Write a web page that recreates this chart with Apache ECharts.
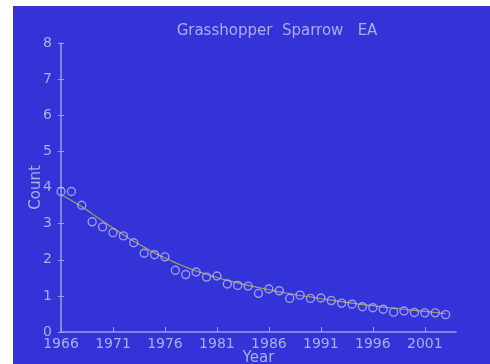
<!DOCTYPE html>
<html>
<head>
<meta charset="utf-8">
<script src="https://cdn.jsdelivr.net/npm/echarts@6/dist/echarts.min.js"></script>
<style>
  html, body { margin: 0; padding: 0; background: #ffffff; }
  #chart { position: absolute; left: 13px; top: 6px; width: 477px; height: 358px; }
</style>
</head>
<body>
<div id="chart"></div>
<script>
// Grasshopper Sparrow, Eastern region: annual index and fitted trend
const years = [1966, 1967, 1968, 1969, 1970, 1971, 1972, 1973, 1974, 1975,
               1976, 1977, 1978, 1979, 1980, 1981, 1982, 1983, 1984, 1985,
               1986, 1987, 1988, 1989, 1990, 1991, 1992, 1993, 1994, 1995,
               1996, 1997, 1998, 1999, 2000, 2001, 2002, 2003];
const counts = [3.89, 3.89, 3.51, 3.05, 2.91, 2.75, 2.66, 2.47, 2.18, 2.14,
                2.08, 1.71, 1.59, 1.66, 1.52, 1.55, 1.33, 1.29, 1.27, 1.07,
                1.19, 1.14, 0.93, 1.02, 0.93, 0.94, 0.87, 0.80, 0.77, 0.70,
                0.67, 0.63, 0.55, 0.58, 0.54, 0.53, 0.53, 0.48];
const trend = [3.80, 3.64, 3.47, 3.27, 3.07, 2.88, 2.69, 2.51, 2.35, 2.19,
               2.05, 1.92, 1.80, 1.69, 1.60, 1.51, 1.43, 1.36, 1.29, 1.23,
               1.17, 1.11, 1.06, 1.01, 0.97, 0.92, 0.88, 0.84, 0.80, 0.76,
               0.73, 0.69, 0.66, 0.63, 0.60, 0.57, 0.54, 0.51];
const yearTicks = [1966, 1971, 1976, 1981, 1986, 1991, 1996, 2001];

const fg = '#adadee';
const axisCol = '#9d9dea';
const font = 'DejaVu Sans';

const chart = echarts.init(document.getElementById('chart'));
chart.setOption({
  backgroundColor: '#3333d8',
  animation: false,
  title: {
    text: 'Grasshopper  Sparrow   EA',
    left: 259,
    top: 13,
    textAlign: 'center',
    textStyle: { color: fg, fontFamily: font, fontWeight: 'normal', fontSize: 15 }
  },
  grid: { left: 48, top: 37, right: 34, bottom: 32, outerBoundsMode: 'none', containLabel: false },
  xAxis: {
    type: 'value',
    min: 1966,
    max: 2004,
    name: 'Year',
    nameLocation: 'middle',
    nameGap: 19,
    nameMoveOverlap: false,
    nameTextStyle: { color: fg, fontFamily: font, fontSize: 15 },
    splitLine: { show: false },
    axisLine: { lineStyle: { color: axisCol, width: 1.5 } },
    axisTick: { inside: true, length: 5, customValues: yearTicks, lineStyle: { color: axisCol } },
    axisLabel: {
      customValues: yearTicks,
      formatter: v => String(v),
      color: fg, fontFamily: font, fontSize: 14, margin: 5
    }
  },
  yAxis: [{
    type: 'value',
    min: 0,
    max: 8,
    interval: 1,
    name: 'Count',
    nameLocation: 'middle',
    nameGap: 17,
    nameMoveOverlap: false,
    nameTextStyle: { color: fg, fontFamily: font, fontSize: 15 },
    splitLine: { show: false },
    axisLine: { lineStyle: { color: axisCol, width: 1.5 } },
    axisTick: { length: 3, lineStyle: { color: axisCol } },
    axisLabel: { color: fg, fontFamily: font, fontSize: 14, margin: 9 }
  }, {
    type: 'value',
    position: 'left',
    min: 0,
    max: 8,
    interval: 1,
    splitLine: { show: false },
    axisLine: { show: false },
    axisTick: { inside: true, length: 3, lineStyle: { color: axisCol } },
    axisLabel: { show: false }
  }],
  series: [{
    type: 'line',
    data: years.map((y, i) => [y, trend[i]]),
    smooth: true,
    showSymbol: false,
    lineStyle: { color: '#a5a25a', width: 1.2 },
    z: 2
  }, {
    type: 'scatter',
    data: years.map((y, i) => [y, counts[i]]),
    symbol: 'circle',
    symbolSize: 8,
    itemStyle: { color: 'rgba(0,0,0,0)', borderColor: '#b4b4f6', borderWidth: 1.4 },
    z: 3
  }]
});
</script>
</body>
</html>
